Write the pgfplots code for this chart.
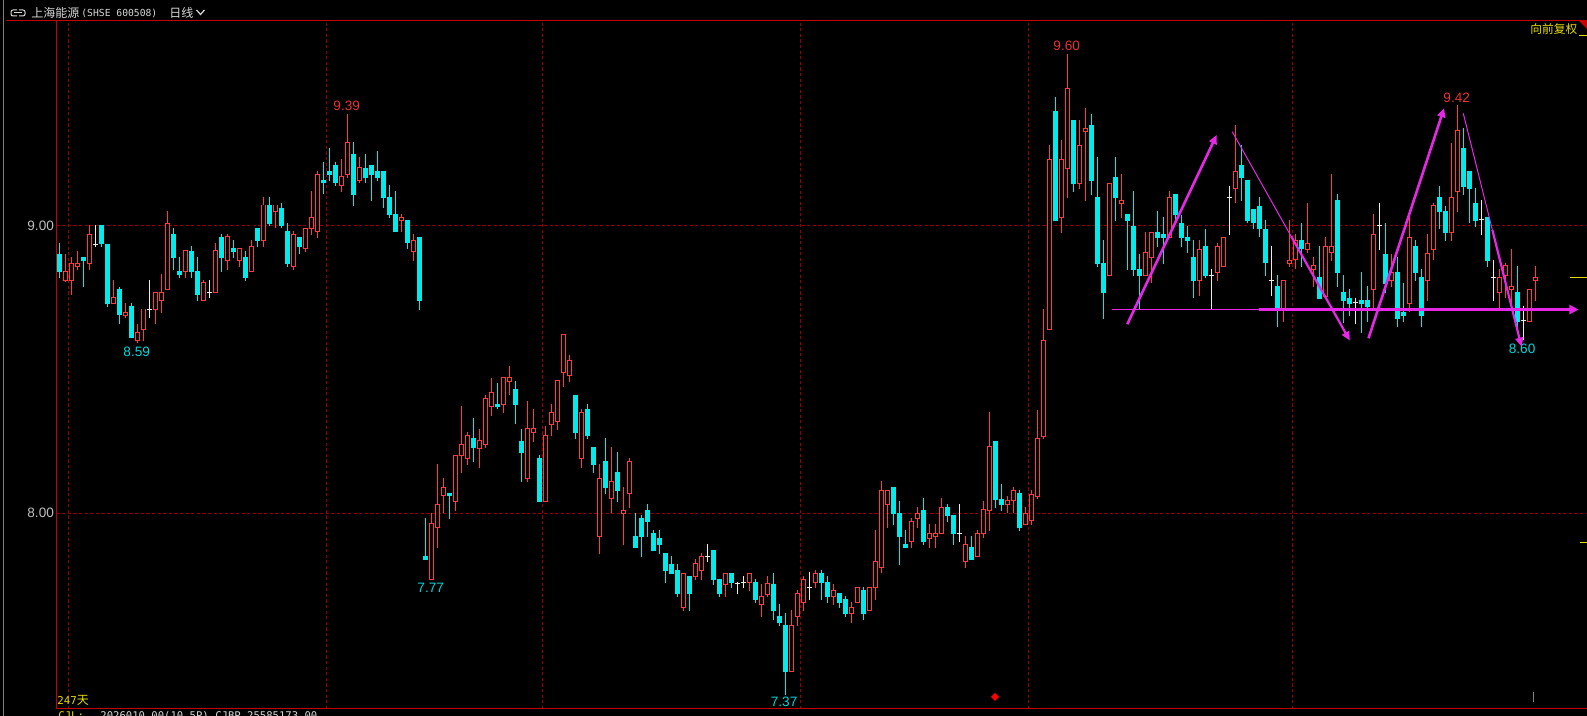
\documentclass[border=0pt]{standalone}
\usepackage{pgfplots}
\pgfplotsset{compat=1.18}
\usepackage{pgfplotstable}
\usepackage{fontspec}
\setmainfont{Liberation Sans}
\newfontfamily\cjk{Noto Sans CJK SC}
\newfontfamily\mono{DejaVu Sans Mono}
\usetikzlibrary{arrows.meta}

\definecolor{upred}{RGB}{255,60,60}
\definecolor{dncyan}{RGB}{0,235,235}
\definecolor{dojiw}{RGB}{235,235,235}
\definecolor{gridred}{RGB}{150,0,0}
\definecolor{framered}{RGB}{200,0,0}
\definecolor{annmag}{RGB}{230,40,230}
\definecolor{lblred}{RGB}{235,50,50}
\definecolor{lblcyan}{RGB}{0,215,215}
\definecolor{ytxt}{RGB}{230,220,0}
\definecolor{greytxt}{RGB}{190,190,190}
\definecolor{hdrgrey}{RGB}{215,215,215}

% up (hollow red) candles: index open high low close
\pgfplotstableread{
i o h l c
1 8.810 8.903 8.805 8.843
2 8.810 8.893 8.760 8.871
3 8.858 8.913 8.847 8.871
5 8.870 9.003 8.847 8.972
9 8.730 8.812 8.730 8.752
11 8.690 8.731 8.679 8.700
13 8.601 8.659 8.592 8.630
14 8.639 8.711 8.601 8.711
16 8.709 8.770 8.659 8.770
17 8.740 8.833 8.698 8.770
18 8.778 9.052 8.778 9.009
21 8.841 8.913 8.820 8.913
24 8.740 8.812 8.740 8.802
26 8.768 8.941 8.768 8.913
28 8.879 8.972 8.847 8.962
30 8.879 8.923 8.858 8.923
32 8.841 8.951 8.841 8.930
34 8.949 9.101 8.928 9.073
36 9.052 9.073 8.992 9.073
39 8.858 8.983 8.848 8.971
41 8.922 8.992 8.911 8.992
42 8.992 9.121 8.969 9.030
43 8.980 9.191 8.959 9.180
47 9.140 9.233 9.119 9.171
48 9.178 9.390 9.168 9.291
50 9.158 9.240 9.151 9.202
57 9.019 9.042 8.980 9.030
59 8.911 8.971 8.879 8.950
62 7.770 8.000 7.770 7.963
63 7.950 8.172 7.879 8.032
64 8.061 8.123 8.000 8.090
66 8.041 8.202 8.009 8.202
67 8.201 8.374 8.142 8.240
68 8.191 8.282 8.169 8.271
70 8.224 8.294 8.159 8.252
71 8.240 8.411 8.229 8.400
72 8.371 8.471 8.340 8.422
74 8.380 8.471 8.350 8.471
75 8.459 8.513 8.411 8.471
78 8.122 8.391 8.110 8.294
79 8.282 8.363 8.249 8.294
81 8.041 8.304 8.041 8.271
82 8.310 8.381 8.270 8.352
83 8.319 8.461 8.290 8.461
84 8.490 8.621 8.440 8.621
85 8.480 8.551 8.457 8.533
87 8.191 8.363 8.159 8.352
90 7.919 8.172 7.858 8.122
92 8.051 8.230 8.000 8.111
94 8.000 8.092 7.890 8.010
95 8.068 8.193 8.019 8.181
104 7.672 7.791 7.661 7.791
106 7.780 7.840 7.768 7.824
107 7.800 7.861 7.768 7.851
111 7.752 7.791 7.710 7.791
115 7.759 7.791 7.731 7.791
117 7.682 7.754 7.640 7.712
118 7.719 7.782 7.710 7.754
122 7.449 7.664 7.449 7.611
123 7.640 7.733 7.608 7.722
124 7.689 7.782 7.661 7.770
126 7.759 7.803 7.741 7.791
129 7.710 7.754 7.681 7.731
132 7.652 7.691 7.619 7.673
133 7.690 7.742 7.690 7.742
135 7.661 7.742 7.661 7.742
136 7.742 7.942 7.698 7.833
137 7.812 8.113 7.791 8.080
138 8.031 8.081 7.950 8.081
142 7.901 7.984 7.880 7.973
143 7.983 8.021 7.950 8.000
145 7.913 7.963 7.880 7.930
146 7.919 7.963 7.880 7.930
147 7.929 8.053 7.929 8.021
151 7.832 7.921 7.811 7.892
153 7.849 7.942 7.849 7.930
154 7.929 8.043 7.913 8.012
155 8.009 8.353 7.939 8.231
158 8.029 8.060 8.000 8.043
159 8.046 8.090 8.000 8.081
161 7.961 8.023 7.961 8.000
162 7.975 8.080 7.960 8.067
163 8.060 8.360 8.050 8.262
164 8.266 8.711 8.260 8.600
165 8.640 9.282 8.640 9.230
167 9.029 9.299 8.977 9.230
168 9.201 9.599 9.099 9.479
170 9.147 9.369 9.129 9.281
171 9.328 9.410 9.088 9.340
175 8.827 9.149 8.827 9.149
177 9.079 9.181 9.029 9.089
181 8.827 8.979 8.827 8.908
182 8.890 8.978 8.800 8.978
185 8.959 9.122 8.959 9.100
190 8.812 8.951 8.758 8.919
193 8.838 8.940 8.810 8.930
194 8.858 8.961 8.858 8.961
196 9.130 9.352 9.079 9.191
204 8.710 8.811 8.667 8.811
205 8.870 9.021 8.858 8.880
206 8.882 8.972 8.849 8.951
208 8.919 9.079 8.907 8.940
209 8.849 8.893 8.789 8.861
211 8.756 8.963 8.756 8.930
212 8.908 9.181 8.879 8.930
219 8.778 9.042 8.710 8.972
222 8.810 8.903 8.789 8.839
225 8.731 9.038 8.700 8.961
228 8.810 8.972 8.740 8.903
229 8.919 9.079 8.882 9.070
232 8.977 9.288 8.949 9.100
233 9.119 9.421 9.050 9.331
240 8.768 8.849 8.708 8.821
241 8.827 8.872 8.748 8.861
242 8.780 8.920 8.708 8.791
245 8.667 8.780 8.667 8.780
246 8.810 8.861 8.740 8.822
}\upT

% down (filled cyan) candles
\pgfplotstableread{
i o h l c
0 8.903 8.942 8.818 8.841
4 8.892 8.892 8.789 8.879
7 9.003 9.003 8.928 8.937
8 8.937 8.937 8.719 8.730
10 8.781 8.789 8.659 8.690
12 8.722 8.731 8.611 8.611
19 8.972 8.993 8.847 8.889
20 8.843 8.892 8.820 8.831
22 8.913 8.930 8.820 8.841
23 8.843 8.892 8.740 8.760
27 8.962 8.972 8.841 8.889
29 8.923 8.951 8.890 8.910
31 8.892 8.913 8.810 8.820
33 8.994 8.994 8.928 8.949
35 9.073 9.101 9.001 9.008
37 9.063 9.080 8.992 9.001
38 8.983 9.009 8.858 8.869
40 8.962 8.962 8.901 8.928
44 9.160 9.222 9.110 9.151
45 9.191 9.271 9.157 9.178
46 9.212 9.222 9.140 9.150
49 9.249 9.291 9.071 9.109
51 9.202 9.249 9.151 9.168
52 9.212 9.212 9.088 9.178
53 9.191 9.261 9.157 9.168
54 9.191 9.191 9.061 9.099
55 9.101 9.143 9.029 9.039
56 9.042 9.121 8.980 8.980
58 9.021 9.021 8.921 8.939
60 8.962 8.962 8.708 8.740
61 7.851 7.983 7.838 7.838
65 8.072 8.072 7.980 8.061
69 8.262 8.332 8.180 8.229
73 8.381 8.454 8.362 8.371
76 8.433 8.460 8.310 8.378
77 8.252 8.294 8.110 8.211
80 8.193 8.203 8.041 8.041
86 8.412 8.412 8.259 8.281
88 8.363 8.381 8.259 8.270
89 8.230 8.232 8.140 8.169
91 8.181 8.262 8.067 8.088
93 8.144 8.214 8.039 8.079
96 7.921 8.000 7.879 7.879
97 7.984 7.994 7.849 7.919
98 8.012 8.032 7.919 7.970
99 7.932 7.942 7.869 7.869
100 7.915 7.942 7.858 7.890
101 7.862 7.862 7.759 7.800
102 7.824 7.851 7.789 7.789
103 7.803 7.824 7.710 7.719
105 7.782 7.782 7.661 7.719
109 7.872 7.872 7.752 7.768
110 7.771 7.771 7.710 7.719
112 7.791 7.791 7.741 7.759
116 7.760 7.770 7.689 7.698
119 7.754 7.791 7.629 7.661
120 7.643 7.684 7.609 7.619
121 7.611 7.654 7.368 7.449
127 7.791 7.803 7.698 7.759
128 7.761 7.782 7.689 7.710
130 7.724 7.724 7.672 7.689
131 7.701 7.712 7.640 7.651
134 7.733 7.742 7.629 7.651
139 8.090 8.090 7.961 7.999
140 8.000 8.043 7.821 7.919
141 7.893 7.942 7.880 7.880
144 8.012 8.053 7.891 7.901
148 8.021 8.032 7.971 7.992
149 7.994 7.994 7.891 7.929
152 7.883 7.921 7.838 7.838
156 8.252 8.252 8.017 8.046
157 8.050 8.102 8.008 8.029
160 8.072 8.081 7.940 7.949
166 9.400 9.450 9.019 9.019
169 9.369 9.369 9.120 9.147
172 9.352 9.390 9.108 9.158
173 9.100 9.240 8.858 8.869
174 8.870 8.951 8.677 8.768
176 9.171 9.240 9.019 9.099
178 9.042 9.042 8.847 9.019
179 9.000 9.122 8.827 8.847
180 8.849 8.903 8.708 8.827
183 8.979 9.052 8.927 8.959
184 8.971 9.031 8.868 8.959
186 9.111 9.111 9.015 9.038
187 9.012 9.038 8.927 8.959
188 8.962 9.000 8.906 8.949
189 8.893 8.951 8.748 8.810
191 8.930 8.990 8.820 8.826
197 9.212 9.282 9.088 9.168
198 9.160 9.160 9.009 9.019
199 9.059 9.059 8.990 9.009
200 9.070 9.100 8.961 8.988
201 8.990 9.021 8.827 8.870
203 8.791 8.829 8.650 8.710
207 8.951 9.009 8.858 8.919
210 8.822 8.930 8.747 8.747
213 9.090 9.111 8.789 8.838
214 8.770 8.829 8.661 8.740
215 8.749 8.780 8.687 8.729
217 8.742 8.839 8.629 8.729
218 8.742 8.791 8.667 8.717
221 8.903 9.009 8.766 8.798
223 8.839 8.893 8.650 8.676
224 8.700 8.800 8.667 8.688
226 8.930 8.951 8.810 8.838
227 8.821 8.849 8.650 8.688
230 9.100 9.139 8.988 9.050
231 9.052 9.070 8.949 8.977
234 9.271 9.340 9.108 9.137
235 9.191 9.191 9.009 9.130
236 9.080 9.132 8.998 9.019
238 9.032 9.032 8.858 8.879
243 8.771 8.861 8.650 8.667
}\downT

% doji (white cross) candles: index open=close high low
\pgfplotstableread{
i v h l
6 8.937 9.003 8.928
15 8.711 8.812 8.679
25 8.770 8.812 8.751
108 7.850 7.893 7.831
113 7.754 7.760 7.719
114 7.760 7.783 7.740
125 7.742 7.794 7.698
150 7.930 8.032 7.901
192 8.828 8.850 8.711
195 9.100 9.139 8.969
202 8.811 8.930 8.758
216 8.732 8.748 8.659
220 9.000 9.079 8.916
237 9.021 9.090 8.969
239 8.821 8.882 8.740
244 8.670 8.722 8.603
}\dojiT

\newcommand\lblfont{\fontsize{6.8pt}{8pt}\selectfont}

\begin{document}
\begin{tikzpicture}
\begin{scope}[x=0.5pt,y=0.5pt]
\fill[black] (0,0) rectangle (1587,716);
\end{scope}

\begin{axis}[
  at={(28.35pt,3.5pt)}, anchor=south west,
  scale only axis, width=765.15pt, height=344pt,
  xmin=-0.43, xmax=254.62, ymin=7.3188, ymax=9.7135,
  axis line style={draw=none},
  major tick length=0pt,
  xtick={1.5,44.5,80.5,123.5,161.5,205.5}, xticklabels={},
  ytick={8,9},
  yticklabel={\pgfmathprintnumber[fixed,fixed zerofill,precision=2]{\tick}},
  /pgf/number format/assume math mode=true,
  yticklabel style={text=greytxt, font=\lblfont, inner sep=0pt, xshift=-1.2pt},
  grid=major,
  major grid style={draw=gridred, line width=0.5pt, dash pattern=on 1.6pt off 1.2pt},
]
% wicks
\addplot[draw=none, mark=none, forget plot, error bars/.cd, y dir=both, y explicit, error mark=none,
  error bar style={draw=upred, line width=0.5pt, solid}]
  table[x=i, y expr={(\thisrow{h}+\thisrow{l})/2}, y error expr={(\thisrow{h}-\thisrow{l})/2}] {\upT};
\addplot[draw=none, mark=none, forget plot, error bars/.cd, y dir=both, y explicit, error mark=none,
  error bar style={draw=dncyan, line width=0.5pt, solid}]
  table[x=i, y expr={(\thisrow{h}+\thisrow{l})/2}, y error expr={(\thisrow{h}-\thisrow{l})/2}] {\downT};
\addplot[draw=none, mark=none, forget plot, error bars/.cd, y dir=both, y explicit, error mark=none,
  error bar style={draw=dojiw, line width=0.5pt, solid}]
  table[x=i, y expr={(\thisrow{h}+\thisrow{l})/2}, y error expr={(\thisrow{h}-\thisrow{l})/2}] {\dojiT};
% bodies
\addplot[draw=none, mark=none, forget plot, error bars/.cd, y dir=both, y explicit, error mark=none,
  error bar style={draw=dncyan, line width=2.6pt, solid}]
  table[x=i, y expr={(\thisrow{o}+\thisrow{c})/2}, y error expr={max((\thisrow{o}-\thisrow{c})/2,0.0018)}] {\downT};
\addplot[draw=none, mark=none, forget plot, error bars/.cd, y dir=both, y explicit, error mark=none,
  error bar style={draw=upred, line width=2.5pt, solid}]
  table[x=i, y expr={(\thisrow{o}+\thisrow{c})/2}, y error expr={(\thisrow{c}-\thisrow{o})/2+0.0017}] {\upT};
\addplot[draw=none, mark=none, forget plot, error bars/.cd, y dir=both, y explicit, error mark=none,
  error bar style={draw=black, line width=1.5pt, solid}]
  table[x=i, y expr={(\thisrow{o}+\thisrow{c})/2}, y error expr={max((\thisrow{c}-\thisrow{o})/2-0.0017,0)}] {\upT};
\addplot[only marks, mark=-, mark size=1.3pt, color=dojiw, mark options={line width=0.5pt, solid}, forget plot]
  table[x=i, y=v] {\dojiT};

% high / low labels
\node[text=lblred, font=\lblfont] at (axis cs:47.9,9.417) {9.39};
\node[text=lblcyan, font=\lblfont] at (axis cs:12.9,8.5625) {8.59};
\node[text=lblcyan, font=\lblfont] at (axis cs:61.9,7.741) {7.77};
\node[text=lblcyan, font=\lblfont] at (axis cs:120.8,7.345) {7.37};
\node[text=lblred, font=\lblfont] at (axis cs:167.9,9.6255) {9.60};
\node[text=lblred, font=\lblfont] at (axis cs:232.9,9.4466) {9.42};
\node[text=lblcyan, font=\lblfont] at (axis cs:243.8,8.571) {8.60};

% hand-drawn magenta trend marks
\draw[annmag, line width=0.7pt] (axis cs:175.4,8.709) -- (axis cs:200,8.709);
\draw[annmag, line width=1.1pt] (axis cs:200,8.709) -- (axis cs:225,8.709);
\draw[annmag, line width=1.5pt, -{Triangle[length=4.5pt,width=4.5pt]}] (axis cs:225,8.709) -- (axis cs:253.2,8.709);
\draw[annmag, line width=1.3pt, -{Triangle[length=4.5pt,width=4pt]}] (axis cs:178.0,8.658) -- (axis cs:192.9,9.317);
\draw[annmag, line width=0.5pt] (axis cs:195.5,9.328) -- (axis cs:205.3,8.9645);
\draw[annmag, line width=1.1pt, -{Triangle[length=4.5pt,width=4pt]}] (axis cs:205.3,8.9645) -- (axis cs:215.1,8.601);
\draw[annmag, line width=1.3pt, -{Triangle[length=4.5pt,width=4pt]}] (axis cs:218.2,8.609) -- (axis cs:230.8,9.410);
\draw[annmag, line width=0.5pt] (axis cs:234.0,9.392) -- (axis cs:238.85,8.986);
\draw[annmag, line width=1.1pt, -{Triangle[length=4.5pt,width=4pt]}] (axis cs:238.85,8.986) -- (axis cs:243.7,8.580);
\end{axis}

\begin{scope}[x=0.5pt,y=0.5pt]
% frame
\draw[framered, line width=0.5pt] (6,695) -- (1587,695);
\draw[framered, line width=0.5pt] (56.7,695) -- (56.7,7);
\draw[framered, line width=0.5pt] (56.7,7) -- (1587,7);
\fill[framered] (1579,695) -- (1587,695) -- (1587,687) -- cycle;
\draw[gray, line width=0.5pt] (3,716) -- (3,0);
% header
\draw[hdrgrey, line width=0.5pt, rounded corners=1pt] (17,706) -- (11,706) -- (11,700) -- (17,700);
\draw[hdrgrey, line width=0.5pt, rounded corners=1pt] (19,706) -- (25,706) -- (25,700) -- (19,700);
\draw[hdrgrey, line width=0.5pt] (14,703) -- (22,703);
\node[anchor=west, inner sep=0pt, text=hdrgrey, font=\cjk\fontsize{6pt}{7pt}\selectfont] at (31,703) {上海能源};
\node[anchor=west, inner sep=0pt, text=hdrgrey, font=\mono\fontsize{4.85pt}{6pt}\selectfont] at (81,703) {(SHSE 600508)};
\node[anchor=west, inner sep=0pt, text=hdrgrey, font=\cjk\fontsize{6pt}{7pt}\selectfont] at (169,703) {日线};
\draw[hdrgrey, line width=0.6pt] (196.5,706) -- (200.5,701.5) -- (204.5,706);
% top right
\node[anchor=west, inner sep=0pt, text=ytxt, font=\cjk\fontsize{5.85pt}{7pt}\selectfont] at (1530,686.5) {向前复权};
\draw[ytxt, line width=0.5pt] (1579,680.5) -- (1587,680.5);
% right-edge markers
\draw[ytxt, line width=0.5pt] (1570,438.7) -- (1587,438.7);
\draw[ytxt, line width=0.5pt] (1580,173.7) -- (1587,173.7);
\draw[gray, line width=0.5pt] (1533,24) -- (1533,14);
% bottom
\node[anchor=west, inner sep=0pt, text=ytxt, font=\mono\fontsize{5.4pt}{6pt}\selectfont] at (57,15.5) {247};
\node[anchor=west, inner sep=0pt, text=ytxt, font=\cjk\fontsize{6pt}{7pt}\selectfont] at (76.5,15.5) {天};
\fill[red] (995,23) -- (999,19) -- (995,15) -- (991,19) -- cycle;
% next panel's caption line, cut by the lower edge as in the reference
\node[anchor=north west, inner sep=0pt, text=ytxt, font=\mono\fontsize{5.3pt}{6pt}\selectfont] at (58,4.8) {CJL:};
\node[anchor=north west, inner sep=0pt, text=hdrgrey, font=\mono\fontsize{5.3pt}{6pt}\selectfont] at (100,4.8) {2026010.00(10.5P)  CJBP 25585173.00};
\end{scope}
\pgfresetboundingbox
\path[use as bounding box] (0,0) rectangle (793.5pt,358pt);
\end{tikzpicture}
\end{document}
